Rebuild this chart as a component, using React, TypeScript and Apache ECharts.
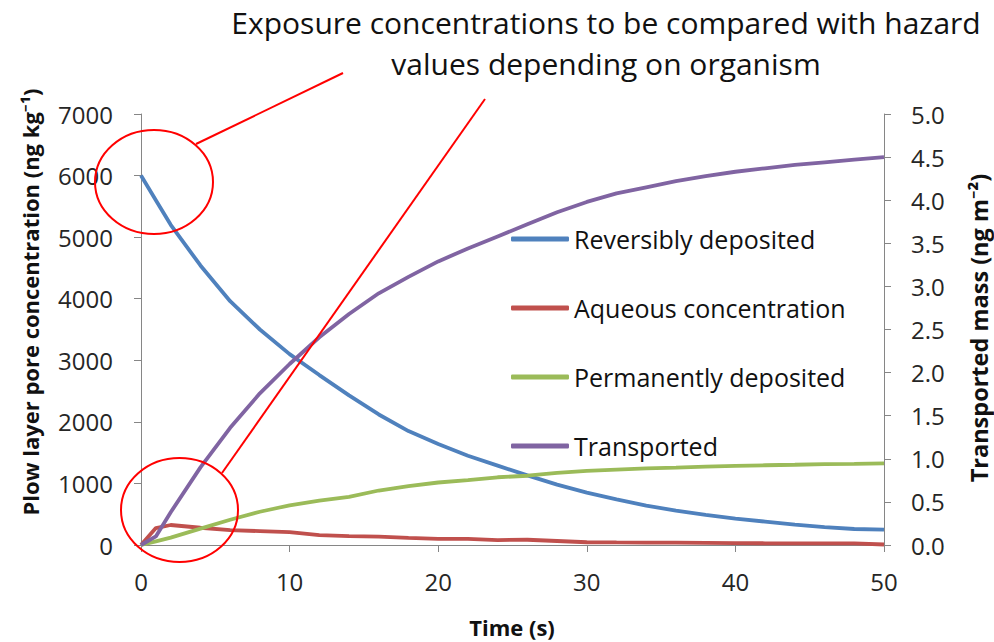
import React, { useEffect, useRef } from "react";
import * as echarts from "echarts";

const times = [0, 1, 2, 4, 6, 8, 10, 12, 14, 16, 18, 20, 22, 24, 26, 28, 30, 32, 34, 36, 38, 40, 42, 44, 46, 48, 50];
const reversiblyDeposited = [6000, 5600, 5200, 4540, 3960, 3500, 3100, 2760, 2430, 2120, 1850, 1640, 1450, 1290, 1130, 980, 850, 740, 640, 560, 490, 430, 380, 330, 290, 260, 250];
const aqueousConcentration = [0, 275, 325, 280, 240, 225, 210, 160, 145, 135, 115, 100, 98, 80, 85, 65, 45, 42, 40, 38, 35, 30, 28, 27, 27, 25, 8];
const permanentlyDeposited = [0, 60, 120, 265, 410, 540, 645, 720, 780, 885, 955, 1015, 1055, 1100, 1125, 1170, 1205, 1225, 1245, 1258, 1272, 1286, 1295, 1303, 1312, 1318, 1325];
const transported = [0, 0.1, 0.38, 0.9, 1.36, 1.76, 2.1, 2.41, 2.68, 2.92, 3.11, 3.29, 3.44, 3.58, 3.72, 3.86, 3.98, 4.08, 4.15, 4.22, 4.28, 4.33, 4.37, 4.41, 4.44, 4.47, 4.5];

const seriesNames = ["Reversibly deposited", "Aqueous concentration", "Permanently deposited", "Transported"];
const seriesColors = ["#4F81BD", "#C0504D", "#9BBB59", "#8064A2"];

const titleLines = ["Exposure concentrations to be compared with hazard", "values depending on organism"];
const xTitle = "Time (s)";
const leftTitle = "Plow layer pore concentration (ng kg\u207B\u00B9)";
const rightTitle = "Transported mass (ng m\u207B\u00B2)";

const FONT = "'Open Sans', 'Noto Sans', sans-serif";

export default function App() {
  const ref = useRef<HTMLDivElement>(null);
  useEffect(() => {
    if (!ref.current) return;
    const chart = echarts.init(ref.current, undefined, { renderer: "svg" });
    const pair = (vals: number[]) => times.map((t, i) => [t, vals[i]]);
    const mk = (i: number, vals: number[], yAxisIndex: number) => ({
      name: seriesNames[i],
      type: "line",
      yAxisIndex,
      data: pair(vals),
      symbol: "none",
      smooth: false,
      lineStyle: { color: seriesColors[i], width: 3.8 },
      itemStyle: { color: seriesColors[i] },
    });
    const labelStyle = { color: "#262626", fontSize: 24, fontFamily: FONT };
    const axisLine = { show: true, lineStyle: { color: "#868686", width: 1 } };
    chart.setOption({
      animation: false,
      backgroundColor: "#ffffff",
      textStyle: { fontFamily: FONT },
      title: {
        text: titleLines.join("\n"),
        left: 601,
        top: -3,
        textAlign: "center",
        textStyle: { fontSize: 30, fontWeight: "normal", color: "#111", lineHeight: 41, fontFamily: FONT },
      },
      grid: { left: 141, right: 110, top: 114, bottom: 97, containLabel: false },
      legend: {
        orient: "vertical",
        left: 506,
        top: 220,
        icon: "roundRect",
        itemWidth: 58,
        itemHeight: 5,
        itemGap: 41,
        data: seriesNames,
        textStyle: { fontSize: 25, color: "#111", lineHeight: 28, fontFamily: FONT },
      },
      xAxis: {
        type: "value",
        min: 0,
        max: 50,
        interval: 10,
        axisLine,
        axisTick: { show: true, length: 7, lineStyle: { color: "#868686" } },
        splitLine: { show: false },
        axisLabel: { ...labelStyle, margin: 24, formatter: (v: number) => String(v) },
      },
      yAxis: [
        {
          type: "value",
          min: 0,
          max: 7000,
          interval: 1000,
          position: "left",
          axisLine,
          axisTick: { show: true, length: 7, lineStyle: { color: "#868686" } },
          splitLine: { show: false },
          axisLabel: { ...labelStyle, margin: 28, formatter: (v: number) => String(v) },
        },
        {
          type: "value",
          min: 0,
          max: 5,
          interval: 0.5,
          position: "right",
          axisLine,
          axisTick: { show: true, length: 7, lineStyle: { color: "#868686" } },
          splitLine: { show: false },
          axisLabel: { ...labelStyle, margin: 27, formatter: (v: number) => v.toFixed(1) },
        },
      ],
      graphic: [
        {
          type: "text",
          x: 512,
          y: 627,
          style: { text: xTitle, fontSize: 22, fontWeight: "bold", fill: "#111", align: "center", verticalAlign: "middle", fontFamily: FONT },
        },
        {
          type: "text",
          x: 30,
          y: 302,
          rotation: Math.PI / 2,
          style: { text: leftTitle, fontSize: 22, fontWeight: "bold", fill: "#111", align: "center", verticalAlign: "middle", fontFamily: FONT },
        },
        {
          type: "text",
          x: 979,
          y: 328,
          rotation: Math.PI / 2,
          style: { text: rightTitle, fontSize: 23.5, fontWeight: "bold", fill: "#111", align: "center", verticalAlign: "middle", fontFamily: FONT },
        },
        {
          type: "ellipse",
          z: 100,
          shape: { cx: 154, cy: 182, rx: 59, ry: 52 },
          style: { fill: "none", stroke: "#FF0000", lineWidth: 2 },
        },
        {
          type: "ellipse",
          z: 100,
          shape: { cx: 179.5, cy: 510, rx: 58.5, ry: 52 },
          style: { fill: "none", stroke: "#FF0000", lineWidth: 2 },
        },
        {
          type: "line",
          z: 100,
          shape: { x1: 196, y1: 144, x2: 343, y2: 73 },
          style: { stroke: "#FF0000", lineWidth: 2 },
        },
        {
          type: "line",
          z: 100,
          shape: { x1: 222, y1: 473, x2: 485, y2: 99 },
          style: { stroke: "#FF0000", lineWidth: 2 },
        },
      ],
      series: [
        mk(0, reversiblyDeposited, 0),
        mk(1, aqueousConcentration, 0),
        mk(2, permanentlyDeposited, 0),
        mk(3, transported, 1),
      ],
    });
    return () => chart.dispose();
  }, []);
  return <div ref={ref} style={{ position: "absolute", left: 0, top: 0, width: 994, height: 642 }} />;
}
